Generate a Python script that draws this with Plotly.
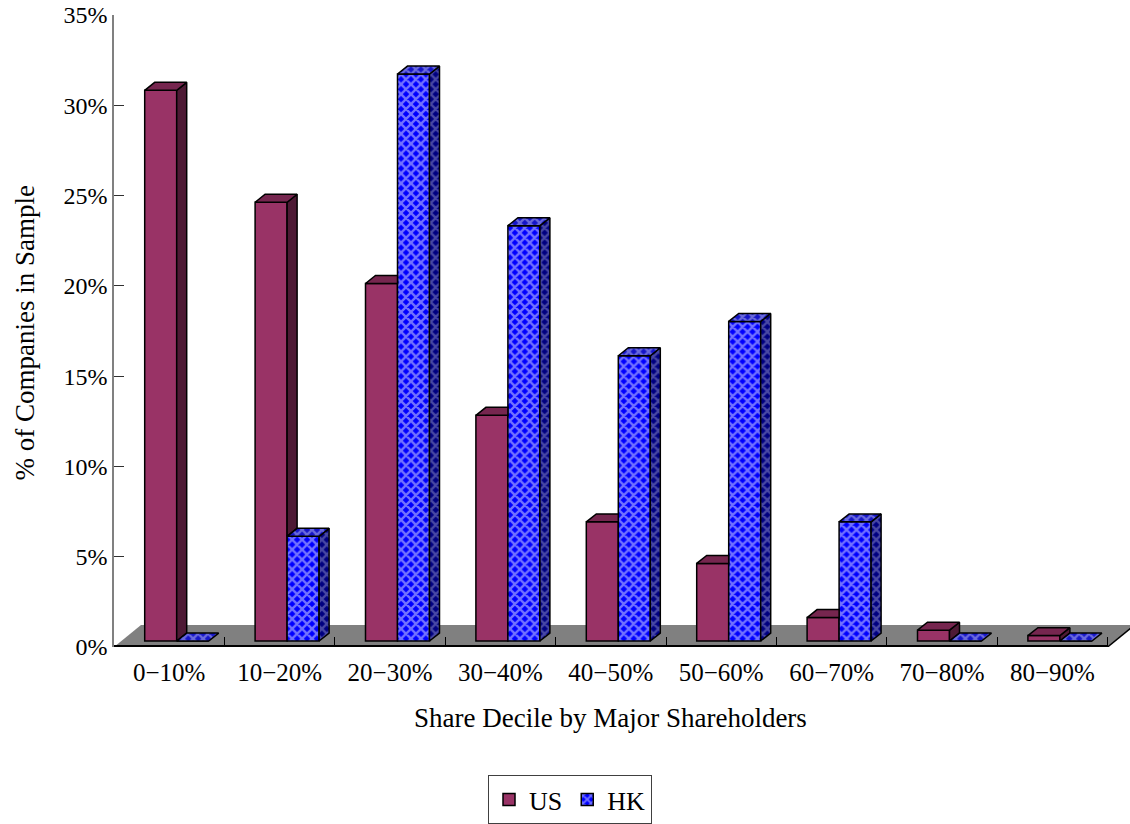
import plotly.graph_objects as go

# ---- data ----------------------------------------------------------------
categories = ["0−10%", "10−20%", "20−30%", "30−40%", "40−50%",
              "50−60%", "60−70%", "70−80%", "80−90%"]
us_pct = [30.5, 24.3, 19.8, 12.5, 6.6, 4.3, 1.3, 0.6, 0.3]
hk_pct = [0.0, 5.8, 31.4, 23.0, 15.8, 17.7, 6.6, 0.0, 0.0]
y_tick_values = [0, 5, 10, 15, 20, 25, 30, 35]
series_names = ["US", "HK"]

# ---- page / plot geometry -------------------------------------------------
W, H = 1130, 824
M_L, M_R, M_T, M_B = 114, 0, 15, 174
Y_MAX = 35
FONT = "Liberation Serif"

n = len(categories)
cat_px = 110.4                      # width of one category slot on screen
plot_w = W - M_L - M_R
plot_h = H - M_T - M_B
y_px = plot_h / Y_MAX
x_lo = -0.5
x_hi = x_lo + plot_w / cat_px


def ux(p):
    return p / cat_px


def uy(p):
    return p / y_px


# pseudo-3D extrusion (in axis units)
BASE = uy(6)                        # bars stand a little behind the front edge
DX, DY = ux(10), uy(8)              # depth of a column
BAR_W = ux(32)
US_OFF = ux(-24.5)                  # left edge of US column from slot centre
HK_OFF = US_OFF + BAR_W
FLOOR_DX, FLOOR_DY = ux(27), uy(22)

US_FRONT, US_SIDE, US_TOP = "#993366", "#4E1A35", "#76264F"
HK_FRONT, HK_SIDE, HK_TOP = "#0000FF", "#000080", "#1515C8"
EDGE = dict(color="black", width=1.5)


def closed(polys):
    xs, ys = [], []
    for pts in polys:
        for x, y in pts:
            xs.append(x)
            ys.append(y)
        xs.append(pts[0][0])
        ys.append(pts[0][1])
        xs.append(None)
        ys.append(None)
    return xs, ys


def face(polys, fill, pattern=None):
    xs, ys = closed(polys)
    kw = dict(x=xs, y=ys, mode="lines", fill="toself", fillcolor=fill,
              line=EDGE, hoverinfo="skip", showlegend=False)
    if pattern:
        kw["fillpattern"] = pattern
    return go.Scatter(**kw)


def hk_pattern(bg, fg):
    return dict(shape="x", bgcolor=bg, fgcolor=fg, size=7, solidity=0.55)


# ---- faces ---------------------------------------------------------------
us_sides, us_tops, hk_sides, hk_tops = [], [], [], []
for i in range(n):
    xl = i + US_OFF
    xr = xl + BAR_W
    top = BASE + us_pct[i]
    hk_top = BASE + hk_pct[i]
    if us_pct[i] > hk_pct[i]:
        # right side only visible above the neighbouring HK column
        us_sides.append([(xr, hk_top), (xr, top), (xr + DX, top + DY),
                         (xr + DX, hk_top + DY)])
        us_tops.append([(xl, top), (xr, top), (xr + DX, top + DY),
                        (xl + DX, top + DY)])
    else:
        # HK column hides the right part of the US lid
        us_tops.append([(xl, top), (xr, top), (xr, top + DY),
                        (xl + DX, top + DY)])

    hl = i + HK_OFF
    hr = hl + BAR_W
    if hk_pct[i] > 0:
        hk_sides.append([(hr, BASE), (hr, hk_top), (hr + DX, hk_top + DY),
                         (hr + DX, BASE + DY)])
    hk_tops.append([(hl, hk_top), (hr, hk_top), (hr + DX, hk_top + DY),
                    (hl + DX, hk_top + DY)])

fig = go.Figure()

fig.add_trace(go.Bar(
    name=series_names[0],
    x=[i + US_OFF + BAR_W / 2 for i in range(n)], y=us_pct, base=BASE,
    width=BAR_W,
    marker=dict(color=US_FRONT, line=EDGE),
    hoverinfo="skip",
))
fig.add_trace(go.Bar(
    name=series_names[1],
    x=[i + HK_OFF + BAR_W / 2 for i in range(n)], y=hk_pct, base=BASE,
    width=BAR_W,
    marker=dict(color=HK_FRONT, line=EDGE,
                pattern=hk_pattern(HK_FRONT, "#E4E4FF")),
    hoverinfo="skip",
))

fig.add_trace(face(us_sides, US_SIDE))
fig.add_trace(face(us_tops, US_TOP))
fig.add_trace(face(hk_sides, HK_SIDE, hk_pattern(HK_SIDE, "#9090C8")))
fig.add_trace(face(hk_tops, HK_TOP, hk_pattern(HK_TOP, "#C0C0F0")))

# ---- floor ---------------------------------------------------------------
x_end = x_lo + n
fig.add_shape(type="path", layer="below", xref="x", yref="y",
              path=(f"M {x_lo},0 L {x_end},0 L {x_end + FLOOR_DX},{FLOOR_DY} "
                    f"L {x_lo + FLOOR_DX},{FLOOR_DY} Z"),
              fillcolor="#808080", line=dict(width=0))
fig.add_shape(type="line", layer="below", xref="x", yref="y",
              x0=x_lo, x1=x_end, y0=uy(1), y1=uy(1),
              line=dict(color="black", width=2))
fig.add_shape(type="line", layer="below", xref="x", yref="y",
              x0=x_end, x1=x_end + FLOOR_DX, y0=0, y1=FLOOR_DY,
              line=dict(color="black", width=1.5))

# ---- titles ----------------------------------------------------------------
fig.add_annotation(text="Share Decile by Major Shareholders",
                   xref="x", yref="paper", x=(n - 1) / 2,
                   y=(M_T + plot_h - 721) / plot_h,
                   xanchor="center", yanchor="middle", showarrow=False,
                   font=dict(family=FONT, size=27, color="black"))
fig.add_annotation(text="% of Companies in Sample", textangle=-90,
                   xref="paper", yref="paper",
                   x=(25 - M_L) / plot_w, y=(M_T + plot_h - 335) / plot_h,
                   xanchor="center", yanchor="middle", showarrow=False,
                   font=dict(family=FONT, size=27, color="black"))

fig.update_layout(
    width=W, height=H,
    margin=dict(l=M_L, r=M_R, t=M_T, b=M_B, pad=0),
    paper_bgcolor="white", plot_bgcolor="white",
    barmode="overlay",
    font=dict(family=FONT, color="black"),
    xaxis=dict(
        range=[x_lo, x_hi], tickmode="array",
        tickvals=list(range(n)), ticktext=categories, ticks="",
        ticklabelstandoff=8,
        tickfont=dict(family=FONT, size=25, color="black"),
        showline=False, showgrid=False, zeroline=False,
        minor=dict(tickmode="array", tickvals=[i + 0.5 for i in range(n)],
                   ticks="inside", ticklen=10, tickcolor="black",
                   tickwidth=1, showgrid=False),
        fixedrange=True,
    ),
    yaxis=dict(
        range=[0, Y_MAX], tickmode="array", tickvals=y_tick_values,
        ticktext=[f"{v}%" for v in y_tick_values],
        ticks="inside", ticklen=10, tickcolor="#303030", tickwidth=1,
        tickfont=dict(family=FONT, size=24, color="black"),
        showline=True, linecolor="#808080", linewidth=1.5,
        showgrid=False, zeroline=False, fixedrange=True,
    ),
    legend=dict(
        orientation="h", x=(570 - M_L) / plot_w, xanchor="center",
        y=(M_T + plot_h - 779) / plot_h, yanchor="top",
        font=dict(family=FONT, size=26, color="black"),
        bordercolor="#404040", borderwidth=1, bgcolor="white",
        itemwidth=30, traceorder="normal",
    ),
)

fig.write_html("out.html")
